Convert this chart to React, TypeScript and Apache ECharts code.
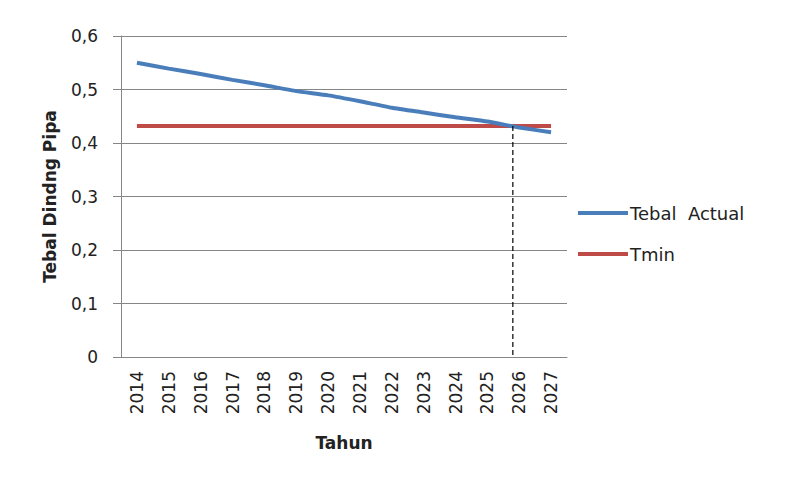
import React, { useEffect, useRef } from "react";
import * as echarts from "echarts";

const years = ["2014","2015","2016","2017","2018","2019","2020","2021","2022","2023","2024","2025","2026","2027"];
const tebalActual = [0.55,0.539,0.529,0.518,0.508,0.497,0.489,0.478,0.466,0.457,0.448,0.44,0.429,0.42];
const tmin = [0.432,0.432,0.432,0.432,0.432,0.432,0.432,0.432,0.432,0.432,0.432,0.432,0.432,0.432];
const crossIndex = 11.8; // position between 2025 and 2026 where the lines meet
const crossValue = 0.432;

export default function App() {
  const ref = useRef<HTMLDivElement>(null);
  useEffect(() => {
    if (!ref.current) return;
    const chart = echarts.init(ref.current, null, { renderer: "svg" });
    const font = "DejaVu Sans";
    chart.setOption({
      animation: false,
      backgroundColor: "#ffffff",
      textStyle: { fontFamily: font },
      grid: { left: 121, right: 221, top: 36, bottom: 121, containLabel: false },
      legend: {
        orient: "vertical",
        left: 578,
        top: 204,
        padding: 0,
        itemWidth: 50,
        itemHeight: 4,
        itemGap: 23,
        icon: "rect",
        textStyle: { fontFamily: font, fontSize: 18, color: "#222", padding: [0, 0, 0, -3] },
        data: ["Tebal  Actual", "Tmin"],
      },
      xAxis: [
        {
          type: "category",
          data: years,
          boundaryGap: true,
          name: "Tahun",
          nameLocation: "middle",
          nameGap: 77,
          nameTextStyle: { fontFamily: font, fontWeight: "bold", fontSize: 17, color: "#222" },
          axisLine: { show: true, onZero: false, lineStyle: { color: "#868686", width: 1 } },
          axisTick: { show: false },
          axisLabel: { rotate: 90, margin: 14, fontFamily: font, fontSize: 17, color: "#222" },
          splitLine: { show: false },
        },
        {
          type: "value",
          min: -0.5,
          max: years.length - 0.5,
          show: false,
          axisLine: { show: false, onZero: false },
          splitLine: { show: false },
        },
      ],
      yAxis: {
        type: "value",
        min: 0,
        max: 0.6,
        interval: 0.1,
        name: "Tebal Dindng Pipa",
        nameLocation: "middle",
        nameGap: 63,
        nameTextStyle: { fontFamily: font, fontWeight: "bold", fontSize: 17, color: "#222" },
        axisLine: { show: true, onZero: false, lineStyle: { color: "#868686", width: 1 } },
        axisTick: { show: true, inside: false, length: 8, lineStyle: { color: "#868686" } },
        axisLabel: {
          margin: 23,
          fontFamily: font,
          fontSize: 17,
          color: "#222",
          formatter: (v: number) => (v === 0 ? "0" : v.toFixed(1).replace(".", ",")),
        },
        splitLine: { show: true, lineStyle: { color: "#868686", width: 1 } },
      },
      series: [
        {
          name: "Tebal  Actual",
          type: "line",
          data: tebalActual,
          smooth: 0.15,
          showSymbol: false,
          symbol: "none",
          color: "#4a7ebb",
          lineStyle: { color: "#4a7ebb", width: 4 },
          z: 3,
        },
        {
          name: "Tmin",
          type: "line",
          data: tmin,
          showSymbol: false,
          symbol: "none",
          color: "#be4b48",
          lineStyle: { color: "#be4b48", width: 4 },
          z: 2,
        },
        {
          name: "cross",
          type: "line",
          xAxisIndex: 1,
          data: [[crossIndex, crossValue], [crossIndex, 0]],
          showSymbol: false,
          symbol: "none",
          silent: true,
          color: "#000",
          lineStyle: { color: "#000", width: 1.2, type: [5, 3] },
          z: 4,
        },
      ],
    });
    return () => chart.dispose();
  }, []);
  return <div ref={ref} style={{ width: 788, height: 478, position: "absolute", left: 0, top: 0 }} />;
}
